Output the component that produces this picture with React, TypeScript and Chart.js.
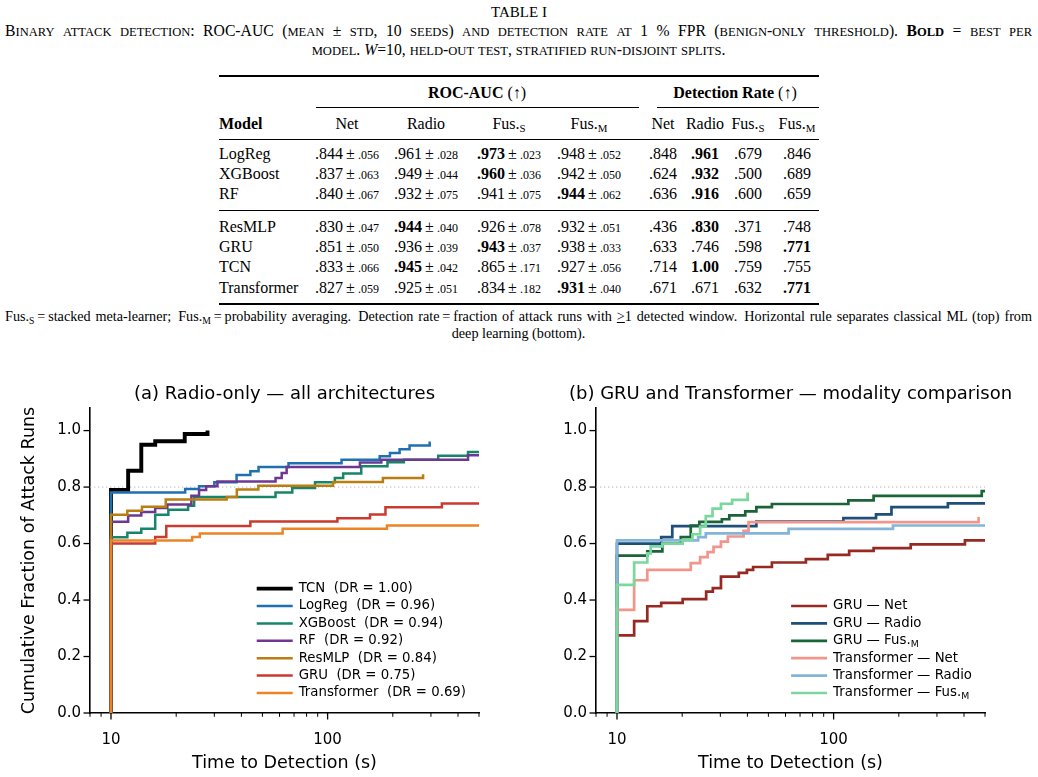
import React, { useEffect, useRef } from "react";
import { Chart, registerables } from "chart.js";

Chart.register(...registerables);

// ---------- Table I ----------
const models = ["LogReg", "XGBoost", "RF", "ResMLP", "GRU", "TCN", "Transformer"];
const modalityNames = ["Net", "Radio", "Fus.", "Fus."];
const modalitySubs = ["", "", "S", "M"];
const aucMean = [
  [0.844, 0.961, 0.973, 0.948],
  [0.837, 0.949, 0.96, 0.942],
  [0.84, 0.932, 0.941, 0.944],
  [0.83, 0.944, 0.926, 0.932],
  [0.851, 0.936, 0.943, 0.938],
  [0.833, 0.945, 0.865, 0.927],
  [0.827, 0.925, 0.834, 0.931],
];
const aucStd = [
  [0.056, 0.028, 0.023, 0.052],
  [0.063, 0.044, 0.036, 0.05],
  [0.067, 0.075, 0.075, 0.062],
  [0.047, 0.04, 0.078, 0.051],
  [0.05, 0.039, 0.037, 0.033],
  [0.066, 0.042, 0.171, 0.056],
  [0.059, 0.051, 0.182, 0.04],
];
const detRate = [
  [0.848, 0.961, 0.679, 0.846],
  [0.624, 0.932, 0.5, 0.689],
  [0.636, 0.916, 0.6, 0.659],
  [0.436, 0.83, 0.371, 0.748],
  [0.633, 0.746, 0.598, 0.771],
  [0.714, 1.0, 0.759, 0.755],
  [0.671, 0.671, 0.632, 0.771],
];

// ---------- Time-to-detection curves (seconds, cumulative fraction of attack runs) ----------
const xTickValues = [8, 9, 10, 20, 30, 40, 50, 60, 70, 80, 90, 100, 200, 300, 400, 500];
const xLabelValues = [10, 100];
const yTickValues = [0, 0.2, 0.4, 0.6, 0.8, 1.0];
const targetLevel = 0.8;

// (a) radio-only, all architectures
const radioDR = [1.0, 0.96, 0.94, 0.92, 0.84, 0.75, 0.69];

const tcnT = [10, 10, 12, 13.8, 16, 21.9, 27.9];
const tcnF = [0, 0.79, 0.858, 0.95, 0.962, 0.988, 1.0];

const logregT = [10, 10, 22, 25.5, 30, 38, 44, 48, 66, 116, 174, 194, 215, 239, 296];
const logregF = [0, 0.781, 0.793, 0.803, 0.817, 0.843, 0.856, 0.871, 0.884, 0.897, 0.909, 0.921, 0.934, 0.947, 0.961];

const xgbT = [10, 10, 11.9, 13.8, 16, 18.4, 22.7, 24.2, 57.5, 68.7, 87.5, 108, 118, 143, 189, 225, 324, 445, 500];
const xgbF = [0, 0.622, 0.638, 0.652, 0.702, 0.72, 0.734, 0.765, 0.781, 0.797, 0.817, 0.832, 0.848, 0.874, 0.888, 0.897, 0.911, 0.924, 0.924];

const rfT = [10, 10, 12, 13.8, 16, 18.2, 23.5, 25.5, 27.5, 31, 57.5, 61.4, 64.7, 141, 177, 445, 500];
const rfF = [0, 0.677, 0.699, 0.712, 0.726, 0.738, 0.769, 0.79, 0.803, 0.82, 0.832, 0.85, 0.871, 0.887, 0.897, 0.913, 0.913];

const resmlpT = [10, 10, 11.9, 13.9, 17.9, 34.2, 38.1, 47.9, 106, 180, 276];
const resmlpF = [0, 0.702, 0.716, 0.73, 0.756, 0.765, 0.791, 0.805, 0.818, 0.832, 0.845];

const gruRadioT = [10, 10, 16, 18, 44, 111, 157, 185, 337, 500];
const gruRadioF = [0, 0.6, 0.623, 0.662, 0.678, 0.69, 0.703, 0.729, 0.742, 0.742];

const trfRadioT = [10, 10, 23.7, 25.7, 62, 188, 500];
const trfRadioF = [0, 0.611, 0.623, 0.636, 0.652, 0.664, 0.664];

// (b) GRU and Transformer across modalities
const gruNetT = [10, 10, 12, 13.8, 16, 20.1, 25.8, 27.7, 30.2, 36.5, 39.8, 42.5, 51.9, 74.5, 94, 118, 153, 227, 404, 500];
const gruNetF = [0, 0.275, 0.325, 0.378, 0.39, 0.403, 0.43, 0.442, 0.483, 0.496, 0.507, 0.517, 0.533, 0.545, 0.56, 0.574, 0.584, 0.597, 0.611, 0.611];

const gruFusT = [10, 10, 13.8, 16.2, 19.7, 21.9, 24, 30.5, 33, 39.1, 44, 51.9, 117, 153, 483, 500];
const gruFusF = [0, 0.557, 0.572, 0.6, 0.623, 0.664, 0.677, 0.686, 0.7, 0.714, 0.729, 0.74, 0.753, 0.769, 0.786, 0.786];

const trfNetT = [10, 10, 12, 13.8, 21.9, 24.2, 26.2, 27.9, 30.2, 32.5, 38.4, 40.5, 467];
const trfNetF = [0, 0.365, 0.47, 0.507, 0.531, 0.552, 0.57, 0.588, 0.607, 0.625, 0.645, 0.676, 0.694];

const trfFusT = [10, 10, 12, 13.8, 14.3, 16.2, 20.1, 22.3, 24.2, 25.7, 27.6, 30.2, 34, 40.1];
const trfFusF = [0, 0.454, 0.533, 0.565, 0.59, 0.6, 0.613, 0.633, 0.66, 0.697, 0.724, 0.741, 0.755, 0.781];

// ---------- styling ----------
const serif = "'Liberation Serif', 'Times New Roman', serif";
const sans = "'DejaVu Sans', sans-serif";

type Curve = { label: string; sub?: string; color: string; width: number; t: number[]; f: number[] };

const radioNames = ["TCN", "LogReg", "XGBoost", "RF", "ResMLP", "GRU", "Transformer"];
const radioColors = ["#000000", "#1f70b0", "#178567", "#6e3891", "#b97d12", "#c93a2f", "#ec8426"];
const radioTimes = [tcnT, logregT, xgbT, rfT, resmlpT, gruRadioT, trfRadioT];
const radioFracs = [tcnF, logregF, xgbF, rfF, resmlpF, gruRadioF, trfRadioF];

const panelA: Curve[] = radioNames.map((n, i) => ({
  label: `${n}  (DR = ${radioDR[i].toFixed(2)})`,
  color: radioColors[i],
  width: i === 0 ? 3.9 : 2.5,
  t: radioTimes[i],
  f: radioFracs[i],
}));

const panelB: Curve[] = [
  { label: "GRU \u2014 Net", color: "#962a22", width: 2.7, t: gruNetT, f: gruNetF },
  { label: "GRU \u2014 Radio", color: "#1d4f78", width: 2.7, t: gruRadioT, f: gruRadioF },
  { label: "GRU \u2014 Fus.", sub: "M", color: "#1b6438", width: 2.7, t: gruFusT, f: gruFusF },
  { label: "Transformer \u2014 Net", color: "#f1968b", width: 2.7, t: trfNetT, f: trfNetF },
  { label: "Transformer \u2014 Radio", color: "#84b5d9", width: 2.7, t: trfRadioT, f: trfRadioF },
  { label: "Transformer \u2014 Fus.", sub: "M", color: "#7bd79e", width: 2.7, t: trfFusT, f: trfFusF },
];

const legendFont = 13.3;

function labelWidth(ctx: CanvasRenderingContext2D, c: Curve) {
  ctx.font = `${legendFont}px ${sans}`;
  let w = ctx.measureText(c.label).width;
  if (c.sub) {
    ctx.font = `${legendFont * 0.7}px ${sans}`;
    w += ctx.measureText(c.sub).width;
  }
  return w;
}

function decorations(curves: Curve[], title: string) {
  return {
    id: "decorations",
    beforeDatasetsDraw(chart: any) {
      const { ctx, chartArea: a, scales } = chart;
      const y = scales.y.getPixelForValue(targetLevel);
      ctx.save();
      ctx.strokeStyle = "#b5b5b5";
      ctx.lineWidth = 1;
      ctx.setLineDash([1.3, 2.7]);
      ctx.beginPath();
      ctx.moveTo(a.left, y);
      ctx.lineTo(a.right, y);
      ctx.stroke();
      ctx.restore();
    },
    afterDraw(chart: any) {
      const { ctx, chartArea: a, scales } = chart;
      ctx.save();
      // tick marks
      ctx.strokeStyle = "#000";
      for (const v of xTickValues) {
        const px = scales.x.getPixelForValue(v);
        const major = xLabelValues.includes(v);
        ctx.lineWidth = major ? 1.3 : 1;
        ctx.beginPath();
        ctx.moveTo(px, a.bottom);
        ctx.lineTo(px, a.bottom + (major ? 6.5 : 3.8));
        ctx.stroke();
      }
      ctx.lineWidth = 1.3;
      for (const v of yTickValues) {
        const py = scales.y.getPixelForValue(v);
        ctx.beginPath();
        ctx.moveTo(a.left - 6.5, py);
        ctx.lineTo(a.left, py);
        ctx.stroke();
      }
      // panel title
      ctx.fillStyle = "#000";
      ctx.font = `18px ${sans}`;
      ctx.textAlign = "center";
      ctx.textBaseline = "middle";
      ctx.fillText(title, (a.left + a.right) / 2, a.top - 14);
      // legend, lower right
      const widths = curves.map((c) => labelWidth(ctx, c));
      const maxW = Math.max(...widths);
      const textLeft = a.right - 13 - maxW;
      const rowH = 17.4;
      ctx.textAlign = "left";
      curves.forEach((c, i) => {
        const yy = a.bottom - 20 - (curves.length - 1 - i) * rowH;
        ctx.strokeStyle = c.color;
        ctx.lineWidth = c.width;
        ctx.beginPath();
        ctx.moveTo(textLeft - 42, yy);
        ctx.lineTo(textLeft - 6, yy);
        ctx.stroke();
        ctx.fillStyle = "#000";
        ctx.font = `${legendFont}px ${sans}`;
        ctx.fillText(c.label, textLeft, yy);
        if (c.sub) {
          const w = ctx.measureText(c.label).width;
          ctx.font = `${legendFont * 0.7}px ${sans}`;
          ctx.fillText(c.sub, textLeft + w, yy + 4);
        }
      });
      ctx.restore();
    },
  };
}

function makeConfig(curves: Curve[], title: string, yTitle: string | null, yWidth: number, padRight: number) {
  return {
    type: "line" as const,
    data: {
      datasets: curves.map((c, i) => ({
        label: c.label,
        data: c.t.map((t, k) => ({ x: t, y: c.f[k] })),
        borderColor: c.color,
        backgroundColor: c.color,
        borderWidth: c.width,
        stepped: "before" as const,
        pointRadius: 0,
        pointHoverRadius: 0,
        fill: false,
        order: curves.length - i,
        borderJoinStyle: "miter" as const,
        borderCapStyle: "butt" as const,
      })),
    },
    options: {
      animation: false as const,
      responsive: false,
      maintainAspectRatio: false,
      events: [],
      layout: { padding: { top: 36, right: padRight, left: 0, bottom: 0 } },
      plugins: { legend: { display: false }, tooltip: { enabled: false }, title: { display: false } },
      scales: {
        x: {
          type: "logarithmic" as const,
          min: 8,
          max: 500,
          afterBuildTicks: (s: any) => {
            s.ticks = xTickValues.map((v) => ({ value: v }));
          },
          afterFit: (s: any) => {
            s.height = 64;
          },
          ticks: {
            autoSkip: false,
            maxRotation: 0,
            padding: 18,
            color: "#000",
            font: { family: sans, size: 15 },
            callback: (v: number) => (xLabelValues.includes(v) ? String(v) : ""),
          },
          grid: { display: false, drawTicks: false },
          border: { display: true, color: "#000", width: 1.6 },
          title: {
            display: true,
            text: "Time to Detection (s)",
            color: "#000",
            font: { family: sans, size: 17.5 },
            padding: { top: 0, bottom: 3 },
          },
        },
        y: {
          type: "linear" as const,
          min: 0,
          max: 1.08,
          afterBuildTicks: (s: any) => {
            s.ticks = yTickValues.map((v) => ({ value: v }));
          },
          afterFit: (s: any) => {
            s.width = yWidth;
          },
          ticks: {
            padding: 9,
            color: "#000",
            font: { family: sans, size: 15 },
            callback: (v: number) => v.toFixed(1),
          },
          grid: { display: false, drawTicks: false },
          border: { display: true, color: "#000", width: 1.6 },
          title: {
            display: !!yTitle,
            text: yTitle || "",
            color: "#000",
            font: { family: sans, size: 17.5 },
            padding: { top: 19, bottom: 0 },
          },
        },
      },
    },
    plugins: [decorations(curves, title)],
  };
}

function Panel(props: { left: number; curves: Curve[]; title: string; yTitle: string | null; yWidth: number; padRight: number }) {
  const ref = useRef<HTMLCanvasElement>(null);
  useEffect(() => {
    const chart = new Chart(ref.current as HTMLCanvasElement, makeConfig(props.curves, props.title, props.yTitle, props.yWidth, props.padRight) as any);
    return () => chart.destroy();
  }, []);
  return (
    <canvas ref={ref} width={519} height={405} style={{ position: "absolute", left: props.left, top: 372, width: 519, height: 405 }} />
  );
}

// ---------- table rendering ----------
const fmt = (v: number) => (v >= 1 ? v.toFixed(2) : v.toFixed(3).replace(/^0/, ""));

const rocCenters = [347, 426, 509, 589];
const drCenters = [663, 705, 748, 797];
const rowCenters = [154, 174, 194, 227, 247, 267, 288];

const subStyle: React.CSSProperties = { fontSize: "0.68em", verticalAlign: "-0.3em", lineHeight: 0 };

// small capitals: lowercase runs become reduced-size capitals
function SmallCaps(props: { text: string }) {
  const parts = props.text.split(/([a-z]+)/);
  return (
    <>
      {parts.map((p, i) =>
        /^[a-z]+$/.test(p) ? (
          <span key={i} style={{ fontSize: "0.8em" }}>
            {p.toUpperCase()}
          </span>
        ) : (
          <React.Fragment key={i}>{p}</React.Fragment>
        )
      )}
    </>
  );
}

function Cell(props: { cx: number; cy: number; children: React.ReactNode; bold?: boolean }) {
  return (
    <div
      style={{
        position: "absolute",
        left: props.cx - 70,
        width: 140,
        top: props.cy - 10,
        height: 20,
        lineHeight: "20px",
        textAlign: "center",
        whiteSpace: "nowrap",
        fontWeight: props.bold ? "bold" : "normal",
      }}
    >
      {props.children}
    </div>
  );
}

function Rule(props: { x0: number; x1: number; y: number; h: number }) {
  return <div style={{ position: "absolute", left: props.x0, width: props.x1 - props.x0, top: props.y - props.h / 2, height: props.h, background: "#000" }} />;
}

function ModalityLabel(props: { i: number }) {
  return (
    <>
      {modalityNames[props.i]}
      {modalitySubs[props.i] && <span style={subStyle}>{modalitySubs[props.i]}</span>}
    </>
  );
}

function Table() {
  const justifyLine: React.CSSProperties = { textAlign: "justify", textAlignLast: "justify" as any, whiteSpace: "normal" };
  return (
    <div style={{ position: "absolute", left: 0, top: 0, width: 1038, height: 372, fontFamily: serif, color: "#000" }}>
      <div style={{ position: "absolute", left: 0, width: 1038, top: 4, lineHeight: "17px", fontSize: 15, textAlign: "center" }}>TABLE I</div>
      <div style={{ position: "absolute", left: 5, width: 1027, top: 21.5, lineHeight: "17px", fontSize: 15.7 }}>
        <div style={justifyLine}>
          <SmallCaps text="Binary attack detection: ROC-AUC (mean ± std, 10 seeds) and detection rate at 1 % FPR (benign-only threshold). " />
          <b>
            <SmallCaps text="Bold" />
          </b>
          <SmallCaps text=" = best per" />
        </div>
        <div style={{ textAlign: "center" }}>
          <SmallCaps text="model. " />
          <i>W</i>
          <SmallCaps text="=10, held-out test, stratified run-disjoint splits." />
        </div>
      </div>

      <div style={{ position: "absolute", left: 0, top: 0, width: 1038, height: 372, fontSize: 16 }}>
        <Rule x0={219} x1={819} y={76} h={1.6} />
        <Cell cx={477} cy={93}>
          <b>ROC-AUC</b> (↑)
        </Cell>
        <Cell cx={735} cy={93}>
          <b>Detection Rate</b> (↑)
        </Cell>
        <Rule x0={316} x1={639} y={107} h={1} />
        <Rule x0={657} x1={819} y={107} h={1} />
        <div style={{ position: "absolute", left: 219, top: 124 - 10, lineHeight: "20px", fontWeight: "bold" }}>Model</div>
        {rocCenters.map((c, i) => (
          <Cell key={"rh" + i} cx={c} cy={124}>
            <ModalityLabel i={i} />
          </Cell>
        ))}
        {drCenters.map((c, i) => (
          <Cell key={"dh" + i} cx={c} cy={124}>
            <ModalityLabel i={i} />
          </Cell>
        ))}
        <Rule x0={219} x1={819} y={139} h={1} />
        <Rule x0={219} x1={819} y={210.5} h={1} />
        <Rule x0={219} x1={819} y={304} h={1.6} />
        {models.map((m, r) => {
          const cy = rowCenters[r];
          const bestAuc = Math.max(...aucMean[r]);
          const bestDr = Math.max(...detRate[r]);
          return (
            <React.Fragment key={m}>
              <div style={{ position: "absolute", left: 219, top: cy - 10, lineHeight: "20px" }}>{m}</div>
              {aucMean[r].map((v, k) => (
                <Cell key={"a" + k} cx={rocCenters[k]} cy={cy}>
                  <span style={{ fontWeight: v === bestAuc ? "bold" : "normal" }}>{fmt(v)}</span>
                  {"\u2009±\u2009"}
                  <span style={{ fontSize: 12 }}>{fmt(aucStd[r][k])}</span>
                </Cell>
              ))}
              {detRate[r].map((v, k) => (
                <Cell key={"d" + k} cx={drCenters[k]} cy={cy} bold={v === bestDr}>
                  {fmt(v)}
                </Cell>
              ))}
            </React.Fragment>
          );
        })}
      </div>

      <div style={{ position: "absolute", left: 5, width: 1027, top: 308, lineHeight: "17px", fontSize: 14.2 }}>
        <div style={justifyLine}>
          Fus.<span style={subStyle}>S</span>{"\u2009=\u2009"}stacked meta-learner;{"\u2002"}Fus.<span style={subStyle}>M</span>
          {"\u2009=\u2009"}probability averaging.{"\u2002"}Detection rate{"\u2009=\u2009"}fraction of attack runs with{" "}
          <span style={{ textDecoration: "underline" }}>&gt;</span>1 detected window.{"\u2002"}Horizontal rule separates classical ML (top) from
        </div>
        <div style={{ textAlign: "center" }}>deep learning (bottom).</div>
      </div>
    </div>
  );
}

export default function App() {
  return (
    <div style={{ position: "absolute", left: 0, top: 0, width: 1038, height: 777, background: "#fff", overflow: "hidden" }}>
      <Table />
      <Panel
        left={0}
        curves={panelA}
        title={"(a) Radio-only \u2014 all architectures"}
        yTitle="Cumulative Fraction of Attack Runs"
        yWidth={90}
        padRight={40}
      />
      <Panel
        left={519}
        curves={panelB}
        title={"(b) GRU and Transformer \u2014 modality comparison"}
        yTitle={null}
        yWidth={77}
        padRight={53}
      />
    </div>
  );
}
